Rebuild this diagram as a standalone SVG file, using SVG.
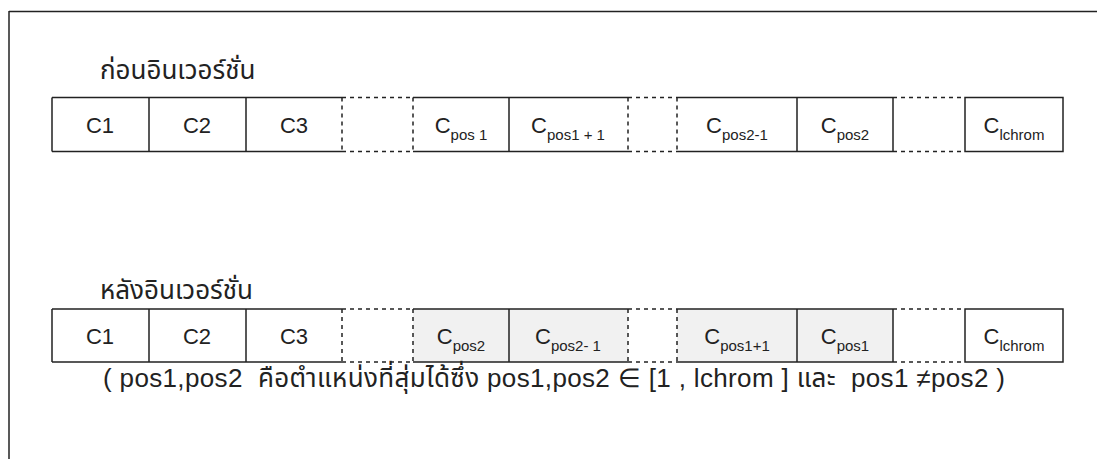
<svg xmlns="http://www.w3.org/2000/svg" width="1097" height="459" viewBox="0 0 1097 459">
  <style>
    .ln { stroke: #222; stroke-width: 1.5; fill: none; }
    .dash { stroke: #222; stroke-width: 1.5; fill: none; stroke-dasharray: 4 4; }
    .shade { fill: #f1f1f1; stroke: none; }
    .cell { font-family: "Liberation Sans", Arial, sans-serif; font-size: 22px; fill: #222; text-anchor: middle; }
    .sub { font-size: 15px; }
    .thai { font-family: "Liberation Sans", "Noto Sans Thai", "Noto Sans", sans-serif; font-size: 26px; fill: #222; white-space: pre; }
  </style>

  <!-- frame: top and left edges only -->
  <g id="frame">
    <line class="ln" x1="9" y1="11.5" x2="1097" y2="11.5"/>
    <line class="ln" x1="9" y1="11" x2="9" y2="459"/>
  </g>

  <!-- chromosome before inversion -->
  <g id="before">
    <text class="thai" x="100" y="79">ก่อนอินเวอร์ชั่น</text>
    <!-- solid top/bottom segments -->
    <path class="ln" d="M52,97.5 H342 M52,151.5 H342 M413,97.5 H628 M413,151.5 H628 M677,97.5 H893 M677,151.5 H893"/>
    <!-- dashed gaps -->
    <path class="dash" d="M342,97.5 H413 M342,151.5 H413 M628,97.5 H677 M628,151.5 H677 M893,97.5 H965 M893,151.5 H965"/>
    <!-- vertical dividers -->
    <path class="ln" d="M52,97.5 V151.5 M149,97.5 V151.5 M246,97.5 V151.5 M509,97.5 V151.5 M797,97.5 V151.5 M893,97.5 V151.5"/>
    <path class="dash" d="M342,97.5 V151.5 M413,97.5 V151.5 M628,97.5 V151.5 M677,97.5 V151.5"/>
    <rect class="ln" x="965" y="97.5" width="98" height="54"/>
    <g id="before-labels">
      <text class="cell" x="100" y="133">C1</text>
      <text class="cell" x="197" y="133">C2</text>
      <text class="cell" x="294" y="133">C3</text>
      <text class="cell" x="461" y="133">C<tspan class="sub" dy="7">pos 1</tspan></text>
      <text class="cell" x="568" y="133">C<tspan class="sub" dy="7">pos1 + 1</tspan></text>
      <text class="cell" x="737" y="133">C<tspan class="sub" dy="7">pos2-1</tspan></text>
      <text class="cell" x="845" y="133">C<tspan class="sub" dy="7">pos2</tspan></text>
      <text class="cell" x="1014" y="133">C<tspan class="sub" dy="7">lchrom</tspan></text>
    </g>
  </g>

  <!-- chromosome after inversion -->
  <g id="after">
    <text class="thai" x="100" y="299">หลังอินเวอร์ชั่น</text>
    <!-- shaded inverted segment -->
    <rect class="shade" x="413" y="309" width="215" height="53"/>
    <rect class="shade" x="677" y="309" width="216" height="53"/>
    <path class="ln" d="M52,309 H342 M52,362 H342 M413,309 H628 M413,362 H628 M677,309 H893 M677,362 H893"/>
    <path class="dash" d="M342,309 H413 M342,362 H413 M628,309 H677 M628,362 H677 M893,309 H965 M893,362 H965"/>
    <path class="ln" d="M52,309 V362 M149,309 V362 M246,309 V362 M509,309 V362 M797,309 V362 M893,309 V362"/>
    <path class="dash" d="M342,309 V362 M413,309 V362 M628,309 V362 M677,309 V362"/>
    <rect class="ln" x="965" y="309" width="98" height="53"/>
    <g id="after-labels">
      <text class="cell" x="100" y="344">C1</text>
      <text class="cell" x="197" y="344">C2</text>
      <text class="cell" x="294" y="344">C3</text>
      <text class="cell" x="461" y="344">C<tspan class="sub" dy="7">pos2</tspan></text>
      <text class="cell" x="568" y="344">C<tspan class="sub" dy="7">pos2- 1</tspan></text>
      <text class="cell" x="737" y="344">C<tspan class="sub" dy="7">pos1+1</tspan></text>
      <text class="cell" x="845" y="344">C<tspan class="sub" dy="7">pos1</tspan></text>
      <text class="cell" x="1014" y="344">C<tspan class="sub" dy="7">lchrom</tspan></text>
    </g>
  </g>

  <!-- note -->
  <g id="note">
    <text class="thai" x="103" y="387" font-size="23" textLength="902" lengthAdjust="spacing">( pos1,pos2  คือตำแหน่งที่สุ่มได้ซึ่ง pos1,pos2 ∈ [1 , lchrom ] และ  pos1 ≠pos2 )</text>
  </g>
</svg>
